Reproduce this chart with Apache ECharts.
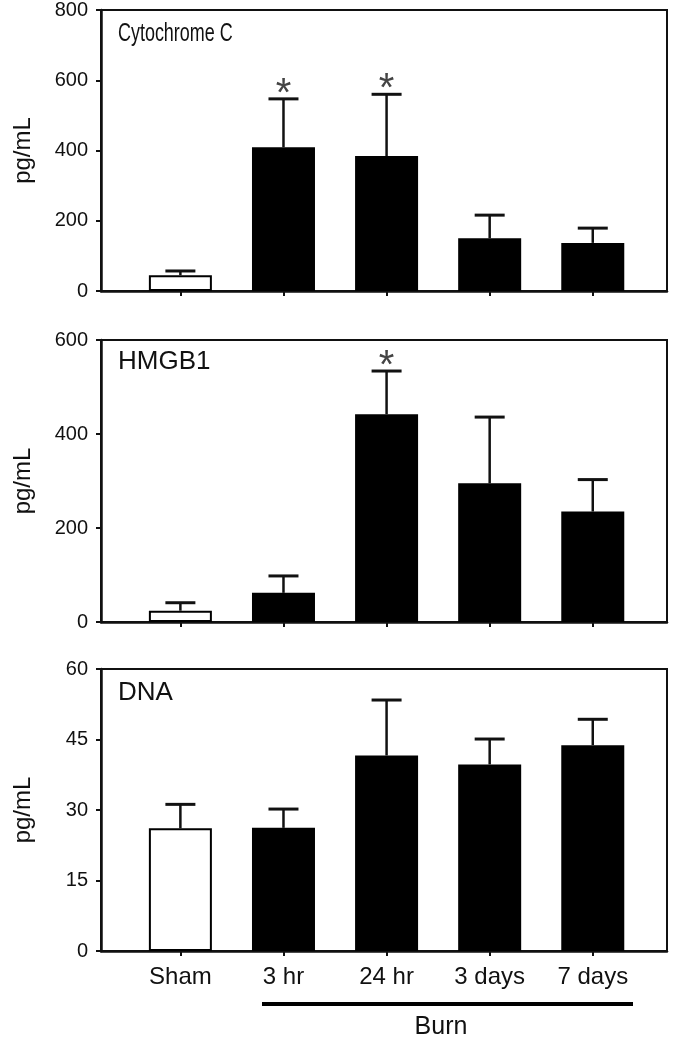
<!DOCTYPE html>
<html>
<head>
<meta charset="utf-8">
<script src="https://cdn.jsdelivr.net/npm/echarts@6/dist/echarts.min.js"></script>
<style>
html,body{margin:0;padding:0;background:#fff;}
#chart{width:673px;height:1050px;}
</style>
</head>
<body>
<div id="chart"></div>
<script>
// ---- data ----
const categories = ['Sham', '3 hr', '24 hr', '3 days', '7 days'];
const panelTitles = ['Cytochrome C', 'HMGB1', 'DNA'];
const yAxisName = 'pg/mL';

const cytoMean = [45, 409, 384, 150, 137];
const cytoErr  = [12, 138, 176, 66, 42];
const cytoSig  = [0, 1, 1, 0, 0];

const hmgbMean = [24, 62, 442, 295, 235];
const hmgbErr  = [17, 36, 92, 141, 68];
const hmgbSig  = [0, 0, 1, 0, 0];

const dnaMean = [26.1, 26.2, 41.6, 39.7, 43.8];
const dnaErr  = [5.1, 4.0, 11.8, 5.4, 5.5];
const dnaSig  = [0, 0, 0, 0, 0];

const yMaxes = [800, 600, 60];
const yIntervals = [200, 200, 15];
const groupLabel = 'Burn';

// ---- layout/style ----
const FONT = "'Liberation Sans', Arial, Helvetica, sans-serif";
const INK = '#111';
const gridTops = [9, 340, 669];
const gridH = 282;
const panels = [
  {mean: cytoMean, err: cytoErr, sig: cytoSig},
  {mean: hmgbMean, err: hmgbErr, sig: hmgbSig},
  {mean: dnaMean, err: dnaErr, sig: dnaSig}
];

const grids = [], xAxes = [], yAxes = [], series = [];
panels.forEach((p, i) => {
  const last = i === panels.length - 1;
  grids.push({left: 101, right: 6, top: gridTops[i], height: gridH,
    show: true, borderColor: INK, borderWidth: 2, backgroundColor: 'transparent'});
  xAxes.push({
    type: 'value', gridIndex: i, min: -0.77, max: 4.72,
    splitLine: {show: false},
    axisLine: {show: true, onZero: false, lineStyle: {color: INK, width: 2.5}},
    axisTick: {show: true, customValues: categories.map((c, k) => k), length: 5, lineStyle: {color: INK, width: 2}},
    axisLabel: last ? {show: true, customValues: categories.map((c, k) => k),
      formatter: v => categories[Math.round(v)], fontSize: 24, fontFamily: FONT, color: INK, margin: 14}
      : {show: false}
  });
  yAxes.push({
    type: 'value', gridIndex: i, min: 0, max: yMaxes[i], interval: yIntervals[i],
    splitLine: {show: false},
    axisLine: {show: true, onZero: false, lineStyle: {color: INK, width: 2.5}},
    axisTick: {show: true, length: 5, lineStyle: {color: INK, width: 2}},
    axisLabel: {fontSize: 20, fontFamily: FONT, color: INK, margin: 13},
    name: yAxisName, nameLocation: 'middle', nameGap: 66,
    nameTextStyle: {fontSize: 24, fontFamily: FONT, color: INK}
  });
  series.push({
    type: 'bar', xAxisIndex: i, yAxisIndex: i, barWidth: 63,
    itemStyle: {color: '#000', borderColor: '#000', borderWidth: 2},
    data: p.mean.map((v, k) => k === 0
      ? {value: [k, v], itemStyle: {color: '#fff'}}
      : {value: [k, v]}),
    z: 2
  });
  series.push({
    type: 'custom', xAxisIndex: i, yAxisIndex: i, z: 3,
    data: p.mean.map((v, k) => [k, v, v + p.err[k], p.sig[k]]),
    renderItem: function (params, api) {
      const x = api.value(0);
      const p0 = api.coord([x, api.value(1)]);
      const p1 = api.coord([x, api.value(2)]);
      const children = [
        {type: 'line', shape: {x1: p0[0], y1: p0[1], x2: p1[0], y2: p1[1]},
          style: {stroke: INK, lineWidth: 2.5}},
        {type: 'line', shape: {x1: p1[0] - 15, y1: p1[1], x2: p1[0] + 15, y2: p1[1]},
          style: {stroke: INK, lineWidth: 3}}
      ];
      if (api.value(3)) {
        children.push({type: 'text', x: p1[0], y: p1[1] - 4,
          style: {text: '*', fontSize: 40, fontFamily: FONT, fill: '#444',
            textAlign: 'center', textVerticalAlign: 'middle'}});
      }
      return {type: 'group', children: children};
    }
  });
});

const titleGraphics = [
  {type: 'text', x: 118, y: 34, scaleX: 0.69,
    style: {text: panelTitles[0], fontSize: 26, fontFamily: FONT, fill: INK, textAlign: 'left', textVerticalAlign: 'middle'}},
  {type: 'text', x: 118, y: 362,
    style: {text: panelTitles[1], fontSize: 26, fontFamily: FONT, fill: INK, textAlign: 'left', textVerticalAlign: 'middle'}},
  {type: 'text', x: 118, y: 693,
    style: {text: panelTitles[2], fontSize: 26, fontFamily: FONT, fill: INK, textAlign: 'left', textVerticalAlign: 'middle'}},
  {type: 'line', shape: {x1: 262, y1: 1004, x2: 633, y2: 1004}, style: {stroke: '#000', lineWidth: 4}},
  {type: 'text', x: 441, y: 1027,
    style: {text: groupLabel, fontSize: 25, fontFamily: FONT, fill: INK, textAlign: 'center', textVerticalAlign: 'middle'}}
];

const chart = echarts.init(document.getElementById('chart'), null, {renderer: 'canvas'});
chart.setOption({
  animation: false,
  backgroundColor: '#fff',
  grid: grids, xAxis: xAxes, yAxis: yAxes, series: series,
  graphic: titleGraphics
});
</script>
</body>
</html>
